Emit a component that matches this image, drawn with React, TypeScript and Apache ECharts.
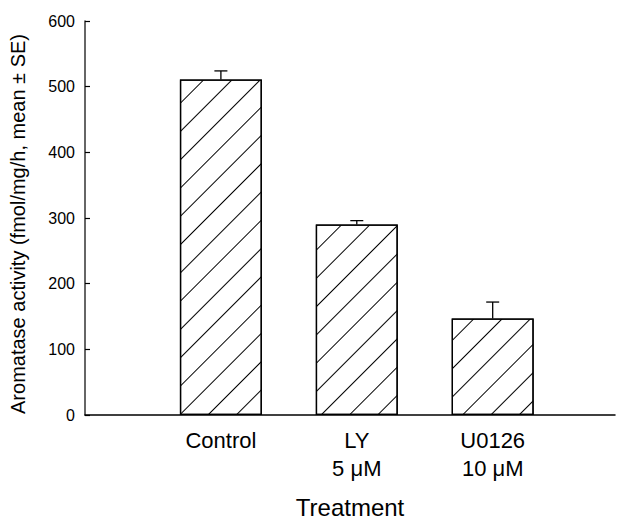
import React, { useEffect, useRef } from "react";
import * as echarts from "echarts";

const categories = ["Control", "LY\n5 μM", "U0126\n10 μM"];
const positions = [1, 2, 3];
const means = [511, 290, 147];
const errors = [13, 6, 25];
const yTicks = [0, 100, 200, 300, 400, 500, 600];

export default function App() {
  const ref = useRef<HTMLDivElement>(null);
  useEffect(() => {
    if (!ref.current) return;
    const chart = echarts.init(ref.current, undefined, { renderer: "svg" });
    const font = "Liberation Sans, Arial, Helvetica, sans-serif";
    const barData = positions.map((p, i) => [p, means[i]]);
    const errData = positions.map((p, i) => [p, means[i], errors[i]]);
    chart.setOption({
      animation: false,
      backgroundColor: "#fff",
      grid: { left: 82, right: 2, top: 21, bottom: 101, containLabel: false },
      xAxis: {
        type: "value",
        min: 0,
        max: 3.9,
        interval: 1,
        name: "Treatment",
        nameLocation: "middle",
        nameGap: 80,
        nameTextStyle: { fontSize: 24, color: "#000", fontFamily: font },
        axisLine: { show: true, lineStyle: { color: "#000", width: 1.5 } },
        axisTick: { show: false },
        splitLine: { show: false },
        axisLabel: {
          margin: 11,
          fontSize: 22,
          lineHeight: 28,
          color: "#000",
          fontFamily: font,
          showMinLabel: true,
          showMaxLabel: true,
          formatter: (v: number) => {
            const idx = positions.indexOf(v);
            return idx >= 0 ? categories[idx] : "";
          },
        },
      },
      yAxis: {
        type: "value",
        min: yTicks[0],
        max: yTicks[yTicks.length - 1],
        interval: 100,
        name: "Aromatase activity (fmol/mg/h, mean ± SE)",
        nameLocation: "middle",
        nameGap: 57,
        nameTextStyle: { fontSize: 20, color: "#000", fontFamily: font, padding: [0, 12, 0, 0] },
        axisLine: { show: true, lineStyle: { color: "#333", width: 1.5 } },
        axisTick: { show: true, inside: true, length: 5, lineStyle: { color: "#000", width: 1.2 } },
        splitLine: { show: false },
        axisLabel: { margin: 10, fontSize: 16, color: "#000", fontFamily: font },
      },
      series: [
        {
          type: "bar",
          data: barData,
          barWidth: 82,
          itemStyle: {
            color: "#fff",
            borderColor: "#000",
            borderWidth: 1.3,
            decal: {
              symbol: "rect",
              symbolSize: 1,
              color: "#000",
              backgroundColor: "#fff",
              dashArrayX: [60, 0],
              dashArrayY: [1, 18.6],
              rotation: -Math.PI / 4,
            },
          },
          z: 2,
        },
        {
          type: "custom",
          data: errData,
          z: 3,
          renderItem: (params: any, api: any) => {
            const x = api.value(0);
            const m = api.value(1);
            const e = api.value(2);
            const p0 = api.coord([x, m]);
            const p1 = api.coord([x, m + e]);
            const half = 6.5;
            const style = { stroke: "#000", lineWidth: 1.3 };
            return {
              type: "group",
              children: [
                { type: "line", shape: { x1: p0[0], y1: p0[1], x2: p1[0], y2: p1[1] }, style },
                { type: "line", shape: { x1: p1[0] - half, y1: p1[1], x2: p1[0] + half, y2: p1[1] }, style },
              ],
            };
          },
        },
      ],
    });
    return () => chart.dispose();
  }, []);
  return <div ref={ref} style={{ width: 618, height: 524, position: "absolute", left: 0, top: 0 }} />;
}
